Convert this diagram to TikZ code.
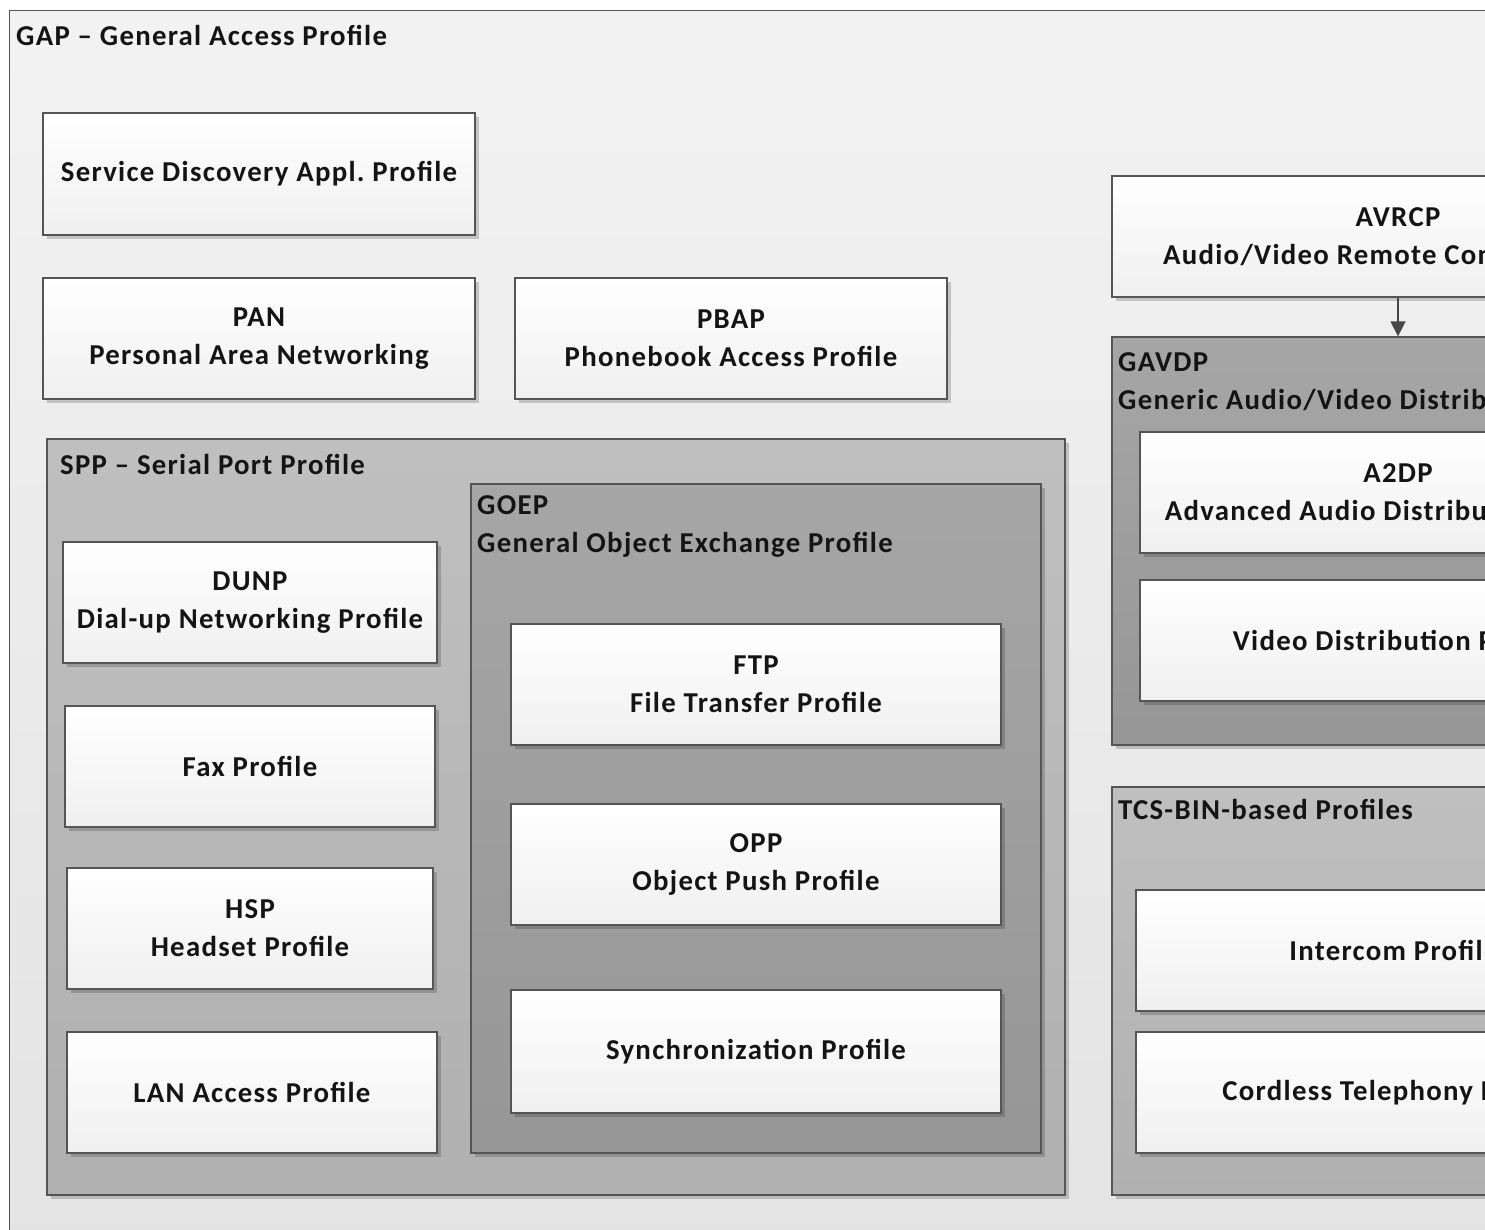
\documentclass[tikz,border=0pt]{standalone}
\usepackage{fontspec}
\setmainfont{Carlito}[LetterSpace=4.5]
\usetikzlibrary{shadows,arrows.meta}
\definecolor{bordr}{HTML}{555555}
\definecolor{txt}{HTML}{141414}
\tikzset{
  base/.style={draw=bordr, line width=1.3pt, inner sep=0pt, text=txt,
    font=\fontsize{28.8}{38}\selectfont\bfseries\frenchspacing, align=center},
  wbox/.style={base, top color=white, bottom color=black!6,
    drop shadow={shadow xshift=3.5pt, shadow yshift=-3.5pt, fill=black, opacity=0.18}},
  lightc/.style={base, top color=black!25, bottom color=black!31,
    drop shadow={shadow xshift=3.5pt, shadow yshift=-3.5pt, fill=black, opacity=0.18}},
  darkc/.style={base, top color=black!35, bottom color=black!41,
    drop shadow={shadow xshift=3.5pt, shadow yshift=-3.5pt, fill=black, opacity=0.18}},
  ttl/.style={anchor=base west, inner sep=0pt, text=txt,
    font=\fontsize{28.8}{38}\selectfont\bfseries\frenchspacing, align=left},
  arr/.style={draw=black!72, line width=1.5pt, -{Triangle[length=15pt,width=15pt]}}
}
\begin{document}
\begin{tikzpicture}[x=1pt,y=-1pt]
\useasboundingbox (0,0) rectangle (1485,1229);
\clip (0,0) rectangle (1485,1229);
\fill[white] (0,0) rectangle (1485,1229);
% GAP outer
\node[base, top color=black!5, bottom color=black!11, minimum width=1600pt, minimum height=1260pt, anchor=north west] (gap) at (9,10) {};
\node[ttl] (gapt) at (16,45) {GAP – General Access Profile};
% top boxes
\node[wbox, minimum width=432pt, minimum height=122pt] (sdap) at (259,174) {Service Discovery Appl. Profile};
\node[wbox, minimum width=432pt, minimum height=121pt] (pan) at (259,338.5) {PAN\\Personal Area Networking};
\node[wbox, minimum width=432pt, minimum height=121pt] (pbap) at (731,338.5) {PBAP\\Phonebook Access Profile};
% SPP
\node[lightc, minimum width=1018pt, minimum height=756pt] (spp) at (556,817) {};
\node[ttl] (sppt) at (60,474) {SPP – Serial Port Profile};
\node[darkc, minimum width=570pt, minimum height=669pt] (goep) at (756,818.5) {};
\node[ttl] (goept) at (477,552) {GOEP\\General Object Exchange Profile};
\node[wbox, minimum width=374pt, minimum height=121pt] (dunp) at (250,602.5) {DUNP\\Dial-up Networking Profile};
\node[wbox, minimum width=370pt, minimum height=121pt] (fax) at (250,766.5) {Fax Profile};
\node[wbox, minimum width=366pt, minimum height=121pt] (hsp) at (250,928.5) {HSP\\Headset Profile};
\node[wbox, minimum width=370pt, minimum height=121pt] (lan) at (252,1092.5) {LAN Access Profile};
\node[wbox, minimum width=490pt, minimum height=121pt] (ftp) at (756,684.5) {FTP\\File Transfer Profile};
\node[wbox, minimum width=490pt, minimum height=121pt] (opp) at (756,864.5) {OPP\\Object Push Profile};
\node[wbox, minimum width=490pt, minimum height=123pt] (sync) at (756,1051.5) {Synchronization Profile};
% right column
\node[wbox, minimum width=572pt, minimum height=121pt] (avrcp) at (1398,236.5) {AVRCP\\Audio/Video Remote Control Profile};
\node[darkc, minimum width=572pt, minimum height=408pt] (gavdp) at (1398,541) {};
\node[ttl] (gavdpt) at (1118,409) {GAVDP\\Generic Audio/Video Distribution Profile};
\node[wbox, minimum width=516pt, minimum height=121pt] (a2dp) at (1398,492.5) {A2DP\\Advanced Audio Distribution Profile};
\node[wbox, minimum width=516pt, minimum height=121pt] (vdp) at (1398,640.5) {Video Distribution Profile};
\node[lightc, minimum width=572pt, minimum height=408pt] (tcs) at (1398,991) {};
\node[ttl] (tcst) at (1118,819) {TCS-BIN-based Profiles};
\node[wbox, minimum width=516pt, minimum height=121pt] (icp) at (1394,950.5) {Intercom Profile};
\node[wbox, minimum width=516pt, minimum height=121pt] (ctp) at (1394,1092.5) {Cordless Telephony Profile};
\draw[arr] (avrcp) -- (gavdp);
\end{tikzpicture}
\end{document}
